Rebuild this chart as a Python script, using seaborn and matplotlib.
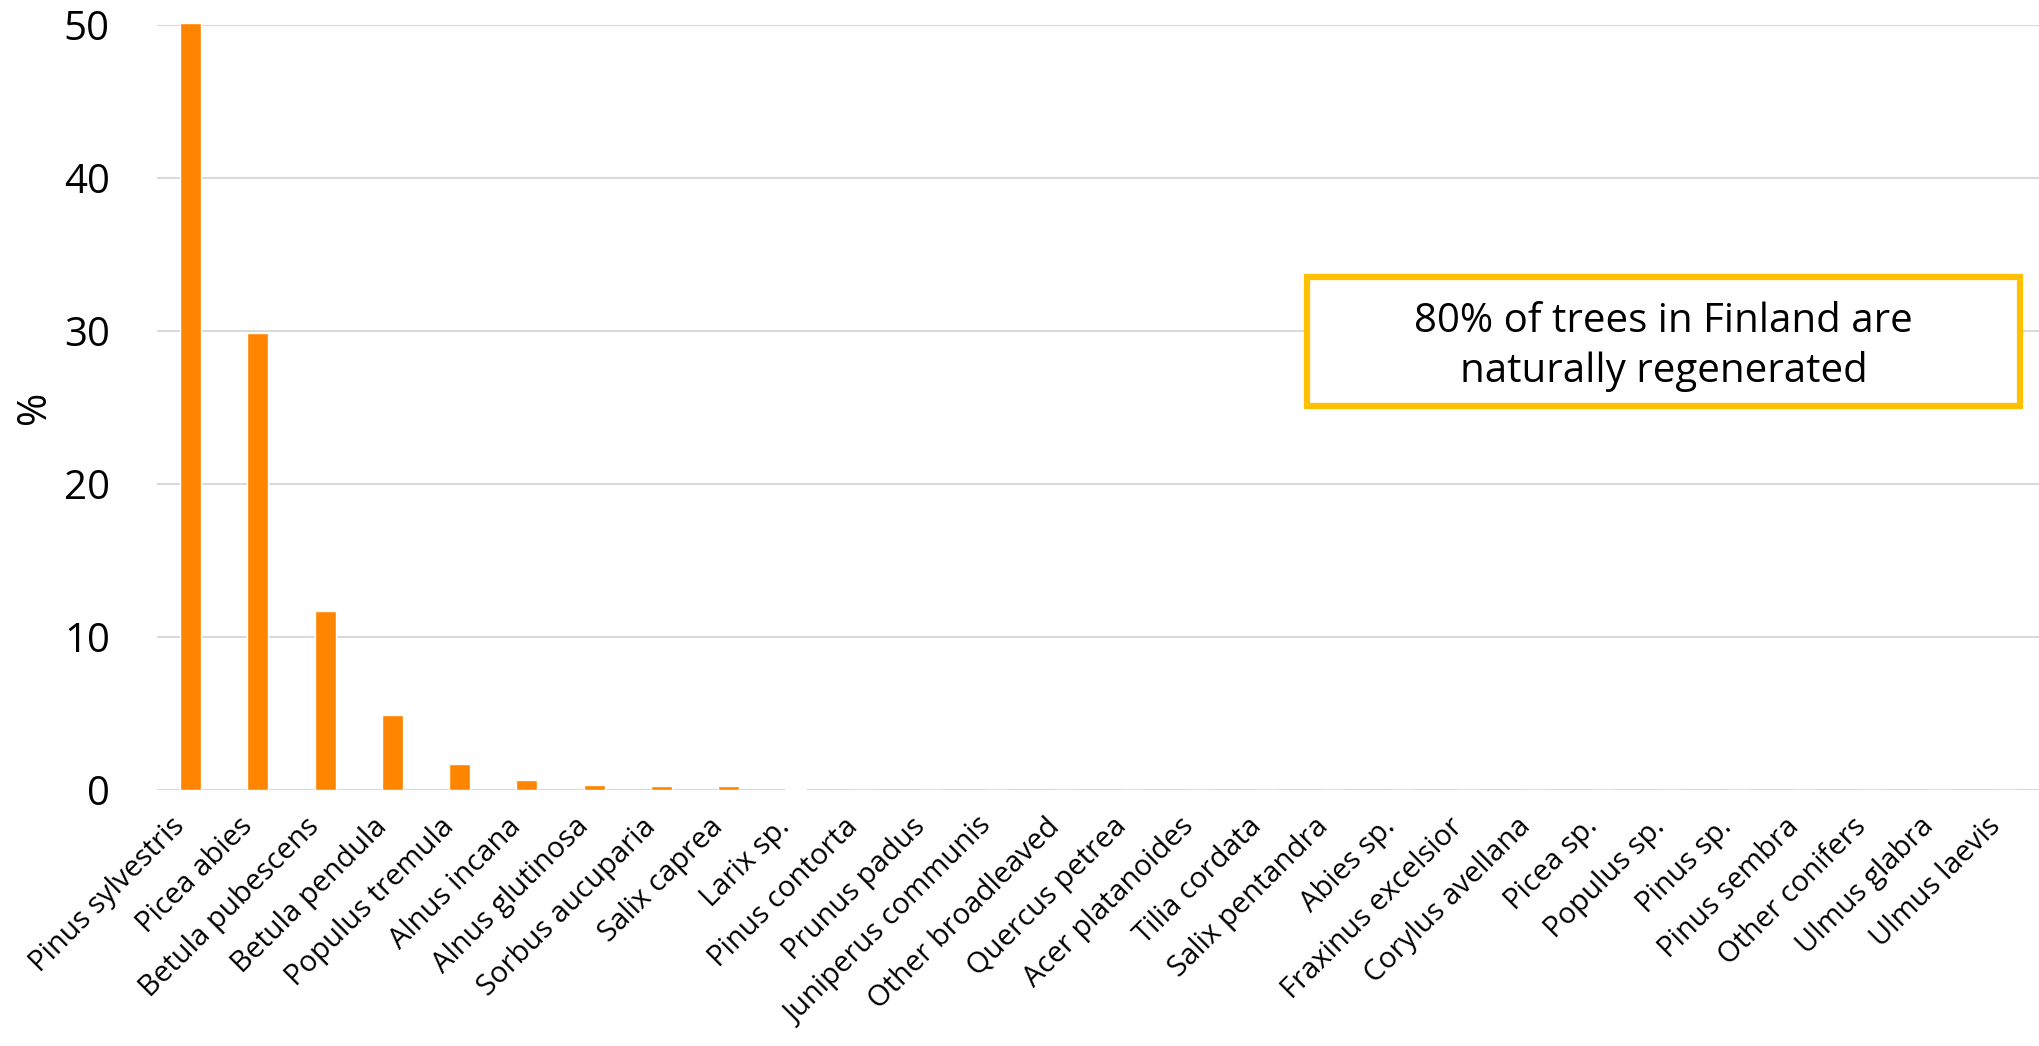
import matplotlib
matplotlib.use("Agg")
import matplotlib.pyplot as plt
import matplotlib.transforms as mtransforms
import seaborn as sns
import pandas as pd
from matplotlib.patches import FancyBboxPatch

species = ["Pinus sylvestris", "Picea abies", "Betula pubescens", "Betula pendula",
           "Populus tremula", "Alnus incana", "Alnus glutinosa", "Sorbus aucuparia",
           "Salix caprea", "Larix sp.", "Pinus contorta", "Prunus padus",
           "Juniperus communis", "Other broadleaved", "Quercus petrea",
           "Acer platanoides", "Tilia cordata", "Salix pentandra", "Abies sp.",
           "Fraxinus excelsior", "Corylus avellana", "Picea sp.", "Populus sp.",
           "Pinus sp.", "Pinus sembra", "Other conifers", "Ulmus glabra", "Ulmus laevis"]
share = [50.1, 29.9, 11.7, 4.9, 1.68, 0.66, 0.33, 0.26, 0.26, 0.07, 0.02, 0.01,
         0.0, 0.0, 0.0, 0.0, 0.0, 0.0, 0.0, 0.0, 0.0, 0.0, 0.0, 0.0, 0.0, 0.0, 0.0, 0.0]
y_ticks = [0, 10, 20, 30, 40, 50]
note = "80% of trees in Finland are\nnaturally regenerated"

sns.set_style("white")
plt.rcParams['font.family'] = ['Open Sans', 'DejaVu Sans']
plt.rcParams['text.color'] = 'black'
plt.rcParams['axes.labelcolor'] = 'black'
plt.rcParams['xtick.color'] = 'black'
plt.rcParams['ytick.color'] = 'black'

df = pd.DataFrame({"species": species, "share": share})

fig = plt.figure(figsize=(20.4, 10.46), dpi=100)
ax = fig.add_axes([157/2040, 1 - 790/1046, 1 - 157/2040, (790 - 25)/1046])

sns.barplot(data=df, x="species", y="share", color="#FF8500", saturation=1,
            width=0.31, ax=ax, zorder=3)
for p in ax.patches:
    p.set_clip_on(False)

ax.set_xlim(-0.5, len(species) - 0.5)
ax.set_ylim(0, 50)
ax.set_yticks(y_ticks)
ax.set_yticklabels([str(t) for t in y_ticks], fontsize=29)
ax.yaxis.grid(True, color="#D9D9D9", linewidth=1.5, zorder=0)
ax.set_axisbelow(True)
for s in ax.spines.values():
    s.set_visible(False)
ax.axhline(0, color="#D9D9D9", linewidth=2.2, zorder=2)
ax.tick_params(axis="y", length=0, pad=34)
ax.tick_params(axis="x", length=0, pad=16)

ax.set_xticks(range(len(species)))
ax.set_xticklabels(species, rotation=45, ha="right", va="top",
                   rotation_mode="anchor", fontsize=21)
shift = mtransforms.ScaledTranslation(-20/100, 0, fig.dpi_scale_trans)
for lbl in ax.get_xticklabels():
    lbl.set_transform(lbl.get_transform() + shift)
ax.set_xlabel("")
ax.set_ylabel("%", fontsize=29, labelpad=6)

# annotation box
x0, y0, x1, y1 = 1307/2040, 1 - 406/1046, 2020/2040, 1 - 277/1046
box = FancyBboxPatch((x0, y0), x1 - x0, y1 - y0, boxstyle="square,pad=0",
                     transform=fig.transFigure, facecolor="white",
                     edgecolor="#FFC000", linewidth=4.5, zorder=5)
fig.patches.append(box)
fig.text((x0 + x1) / 2, (y0 + y1) / 2 - 5/1046, note, ha="center", va="center",
         fontsize=29, linespacing=1.3, zorder=6)

fig.savefig("out.png", dpi=100)
